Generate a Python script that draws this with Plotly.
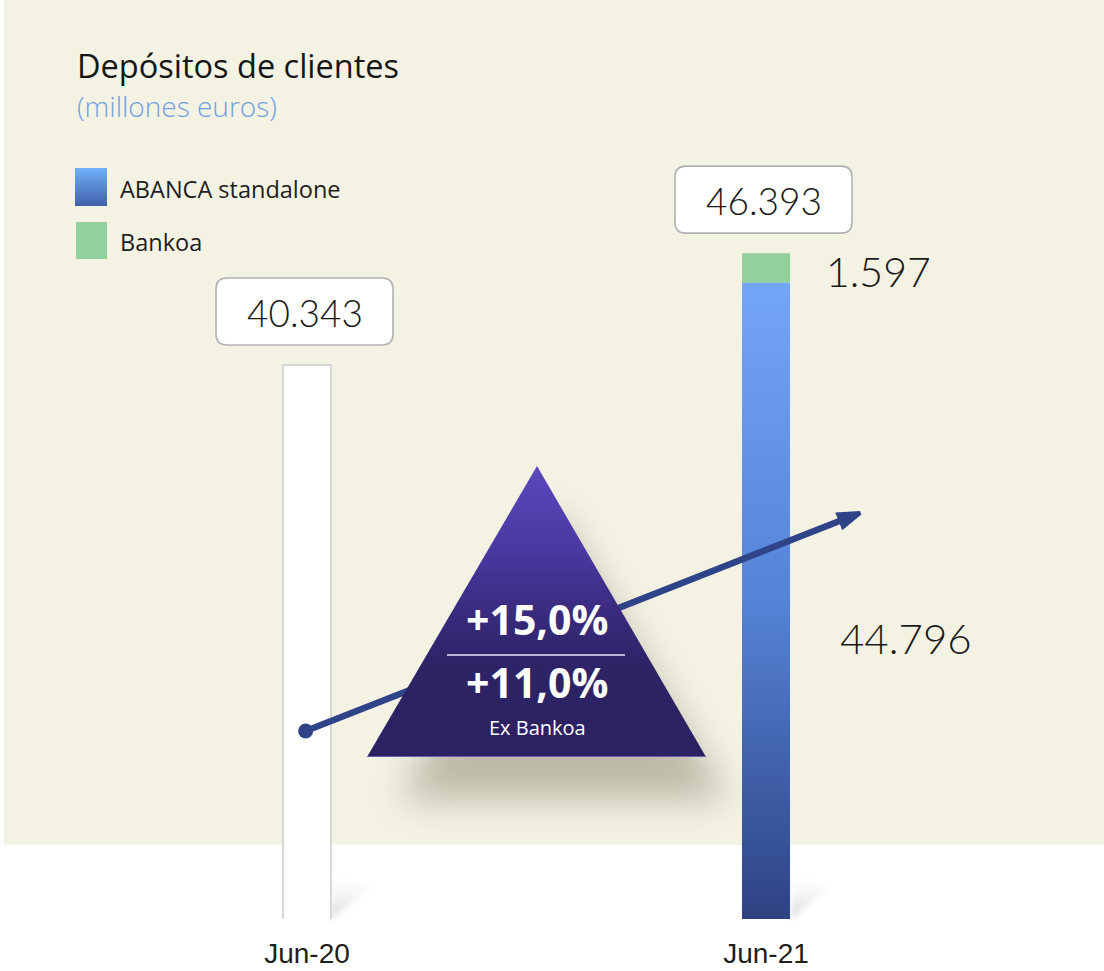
import base64
import math
import plotly.graph_objects as go

# ---------------- data ----------------
categories = ["Jun-20", "Jun-21"]
total_jun20 = 40343
abanca_standalone = [None, 44796]
bankoa = [None, 1597]
totals = [40343, 46393]
legend_labels = ["ABANCA standalone", "Bankoa"]

growth_total = (totals[1] / totals[0] - 1) * 100
growth_ex = (abanca_standalone[1] / totals[0] - 1) * 100

def fmt_num(v):
    return f"{v:,.0f}".replace(",", ".")

def fmt_pct(v):
    return "+" + f"{v:.1f}".replace(".", ",") + "%"

# ---------------- geometry / style ----------------
W, H = 1104, 971
MB = 52
PH = H - MB
Y0 = 10400
PX_PER_UNIT = 0.0185
Y1 = Y0 + PH / PX_PER_UNIT
PX_PER_CAT = 459
X0 = -307 / PX_PER_CAT
X1 = X0 + W / PX_PER_CAT
BW = 48 / PX_PER_CAT

FONT = "Open Sans"
NUMFONT = "Lato"
BG = "#f4f2e3"

def px_x(p):
    return p / W

def px_y(p):
    return (PH - p) / PH

# ---------------- background svg ----------------
bg_svg = f'''<svg xmlns="http://www.w3.org/2000/svg" width="{W}" height="{H}" viewBox="0 0 {W} {H}">
<defs>
<filter id="blur" x="-50%" y="-50%" width="200%" height="200%"><feGaussianBlur stdDeviation="18"/></filter>
<filter id="blur2" x="-50%" y="-50%" width="200%" height="200%"><feGaussianBlur stdDeviation="3"/></filter>
<linearGradient id="leg" x1="0" y1="0" x2="0" y2="1">
<stop offset="0" stop-color="#6fb1fa"/><stop offset="1" stop-color="#3f5fa8"/></linearGradient>
<linearGradient id="bs" x1="0" y1="1" x2="0" y2="0">
<stop offset="0" stop-color="#cfcfcf" stop-opacity="0.9"/><stop offset="1" stop-color="#ffffff" stop-opacity="0"/></linearGradient>
</defs>
<rect x="0" y="0" width="{W}" height="{H}" fill="#ffffff"/>
<rect x="4" y="0" width="{W-4}" height="845" fill="{BG}"/>
<polygon points="555,510 728,800 400,800" fill="#4a4530" opacity="0.32" filter="url(#blur)"/>
<polygon points="331,919 331,872 374,884" fill="url(#bs)" filter="url(#blur2)"/>
<polygon points="791,919 791,872 834,884" fill="url(#bs)" filter="url(#blur2)"/>
<rect x="75" y="168" width="32" height="38" fill="url(#leg)"/>
<rect x="76" y="222" width="31" height="37" fill="#93d19c"/>
</svg>'''

tri_svg = f'''<svg xmlns="http://www.w3.org/2000/svg" width="{W}" height="{H}" viewBox="0 0 {W} {H}">
<defs>
<linearGradient id="tg" x1="0" y1="0" x2="0" y2="1">
<stop offset="0" stop-color="#5c47bc"/>
<stop offset="0.3" stop-color="#4a379f"/>
<stop offset="0.52" stop-color="#382a7c"/>
<stop offset="0.7" stop-color="#2d2365"/>
<stop offset="1" stop-color="#2c2262"/>
</linearGradient>
</defs>
<polygon points="537,466 706,757 367,757" fill="url(#tg)"/>
<line x1="367" y1="756.5" x2="706" y2="756.5" stroke="#6a5fb2" stroke-width="1"/>
<line x1="447" y1="655" x2="625" y2="655" stroke="#e6e4f0" stroke-width="1.6"/>
</svg>'''

def svg_uri(s):
    return "data:image/svg+xml;base64," + base64.b64encode(s.encode("utf-8")).decode("ascii")

# ---------------- figure ----------------
fig = go.Figure()

# Jun-20 white bar
fig.add_trace(go.Bar(
    x=[0], y=[total_jun20], width=BW,
    marker=dict(color="#ffffff", line=dict(color="#cdcdcd", width=1.5)),
    showlegend=False, hoverinfo="skip",
))

# Jun-21 ABANCA standalone (gradient bar drawn as filled polygon on the axes)
i = 1
v = abanca_standalone[i]
fig.add_trace(go.Scatter(
    x=[i - BW / 2, i + BW / 2, i + BW / 2, i - BW / 2, i - BW / 2],
    y=[0, 0, v, v, 0],
    mode="lines", fill="toself", line=dict(width=0, color="rgba(0,0,0,0)"),
    fillgradient=dict(type="vertical",
                      colorscale=[[0, "#2e4283"], [0.5, "#5583d6"], [1, "#73a5f8"]],
                      start=Y0, stop=v),
    name=legend_labels[0], showlegend=False, hoverinfo="skip",
))

# Jun-21 Bankoa stacked on top
fig.add_trace(go.Bar(
    x=[i], y=[bankoa[i]], base=[abanca_standalone[i]], width=BW,
    marker=dict(color="#93d19c", line=dict(width=0)),
    name=legend_labels[1], showlegend=False, hoverinfo="skip",
))

# growth arrow (decoration)
arrow_x = [-0.003, 1.205]
arrow_y = [20560, 32350]
ARROW_COLOR = "#2f4488"
dx_px = (arrow_x[1] - arrow_x[0]) * PX_PER_CAT
dy_px = (arrow_y[1] - arrow_y[0]) * PX_PER_UNIT
arrow_angle = math.degrees(math.atan2(dx_px, dy_px))
t = 1 - 16 / math.hypot(dx_px, dy_px)
fig.add_trace(go.Scatter(
    x=[arrow_x[0], arrow_x[0] + (arrow_x[1] - arrow_x[0]) * t],
    y=[arrow_y[0], arrow_y[0] + (arrow_y[1] - arrow_y[0]) * t],
    mode="lines", line=dict(color=ARROW_COLOR, width=6.5),
    showlegend=False, hoverinfo="skip",
))
fig.add_trace(go.Scatter(
    x=[arrow_x[0]], y=[arrow_y[0]], mode="markers",
    marker=dict(symbol="circle", size=15, color=ARROW_COLOR, opacity=1, line=dict(width=0)),
    showlegend=False, hoverinfo="skip",
))
fig.add_trace(go.Scatter(
    x=[arrow_x[1]], y=[arrow_y[1]], mode="markers",
    marker=dict(symbol="arrow", size=22, angle=arrow_angle, angleref="up",
                color=ARROW_COLOR, opacity=1, line=dict(width=4, color=ARROW_COLOR)),
    showlegend=False, hoverinfo="skip",
))

shapes = []
annotations = []

def rounded_path(l, r, b, t, rad):
    return (f"M{l+rad},{b} L{r-rad},{b} Q{r},{b} {r},{b+rad} L{r},{t-rad} Q{r},{t} {r-rad},{t} "
            f"L{l+rad},{t} Q{l},{t} {l},{t-rad} L{l},{b+rad} Q{l},{b} {l+rad},{b} Z")

for idx, tot in enumerate(totals):
    shapes.append(dict(
        type="path", xref="x", yref="y", xsizemode="pixel", ysizemode="pixel",
        xanchor=idx, yanchor=tot,
        path=rounded_path(-91, 86, 20, 87, 11),
        fillcolor="#ffffff", line=dict(color="#b2b2b2", width=1.6), layer="above",
    ))
    annotations.append(dict(
        x=idx, y=tot, xref="x", yref="y", text=fmt_num(tot), showarrow=False,
        xanchor="center", yanchor="middle", yshift=53, xshift=-2,
        font=dict(family=NUMFONT, size=37, color="#1a1a1a", weight=300),
    ))

# segment labels
annotations.append(dict(
    x=1, y=abanca_standalone[1] + bankoa[1] / 2, xref="x", yref="y",
    text=fmt_num(bankoa[1]), showarrow=False, xanchor="left", yanchor="middle",
    xshift=58, yshift=-4, font=dict(family=NUMFONT, size=41, color="#1a1a1a", weight=300),
))
annotations.append(dict(
    x=1, y=abanca_standalone[1] * 0.571, xref="x", yref="y",
    text=fmt_num(abanca_standalone[1]), showarrow=False, xanchor="left", yanchor="middle",
    xshift=72, font=dict(family=NUMFONT, size=42, color="#1a1a1a", weight=300),
))

# title and subtitle
annotations.append(dict(
    x=px_x(76), y=px_y(65), xref="paper", yref="paper", text="Depósitos de clientes",
    showarrow=False, xanchor="left", yanchor="middle", borderpad=0,
    font=dict(family=FONT, size=32.5, color="#161616"),
))
annotations.append(dict(
    x=px_x(76), y=px_y(106.5), xref="paper", yref="paper", text="(millones euros)",
    showarrow=False, xanchor="left", yanchor="middle", borderpad=0,
    font=dict(family=FONT, size=28, color="#72a0e2", weight=300),
))

# legend texts
for lab, yy in zip(legend_labels, [189, 242]):
    annotations.append(dict(
        x=px_x(118), y=px_y(yy), xref="paper", yref="paper", text=lab,
        showarrow=False, xanchor="left", yanchor="middle",
        font=dict(family=FONT, size=23.5, color="#1e1e1e"),
    ))

# triangle texts
annotations.append(dict(
    x=px_x(537), y=px_y(619), xref="paper", yref="paper", text=f"<b>{fmt_pct(growth_total)}</b>",
    showarrow=False, xanchor="center", yanchor="middle", borderpad=0,
    font=dict(family=FONT, size=41, color="#ffffff"),
))
annotations.append(dict(
    x=px_x(537), y=px_y(682), xref="paper", yref="paper", text=f"<b>{fmt_pct(growth_ex)}</b>",
    showarrow=False, xanchor="center", yanchor="middle", borderpad=0,
    font=dict(family=FONT, size=41, color="#ffffff"),
))
annotations.append(dict(
    x=px_x(537), y=px_y(727), xref="paper", yref="paper", text="Ex Bankoa",
    showarrow=False, xanchor="center", yanchor="middle", borderpad=0,
    font=dict(family=FONT, size=20, color="#ffffff"),
))

fig.update_layout(
    width=W, height=H,
    margin=dict(l=0, r=0, t=0, b=MB, pad=0),
    paper_bgcolor="#ffffff", plot_bgcolor="rgba(0,0,0,0)",
    barmode="overlay", showlegend=False,
    xaxis=dict(range=[X0, X1], tickmode="array", tickvals=list(range(len(categories))),
               ticktext=categories, showgrid=False, zeroline=False, showline=False,
               ticks="", ticklabelstandoff=15,
               tickfont=dict(family="Liberation Sans", size=28, color="#1e1e1e"),
               fixedrange=True),
    yaxis=dict(range=[Y0, Y1], visible=False, fixedrange=True),
    shapes=shapes, annotations=annotations,
    images=[
        dict(source=svg_uri(bg_svg), xref="paper", yref="paper", x=0, y=1,
             sizex=1, sizey=H / PH, xanchor="left", yanchor="top",
             sizing="stretch", layer="below"),
        dict(source=svg_uri(tri_svg), xref="paper", yref="paper", x=0, y=1,
             sizex=1, sizey=H / PH, xanchor="left", yanchor="top",
             sizing="stretch", layer="above"),
    ],
)

fig.write_html("out.html", include_plotlyjs=True, full_html=True,
               config={"displayModeBar": False, "staticPlot": True},
               post_script="document.body.style.margin='0';document.body.style.overflow='hidden';")
